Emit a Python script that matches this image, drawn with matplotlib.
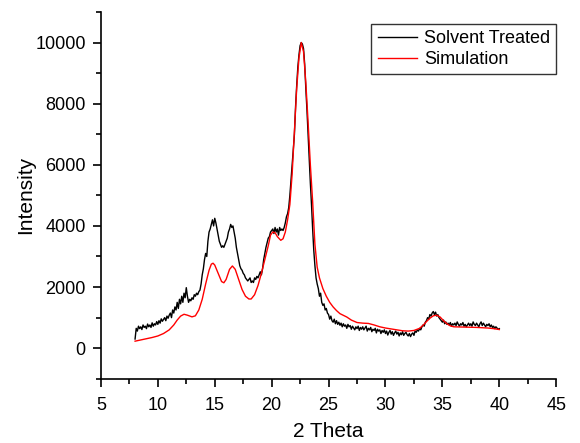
import numpy as np
import matplotlib
matplotlib.use("Agg")
import matplotlib.pyplot as plt
from matplotlib.ticker import MultipleLocator

# measured pattern, sampled every 0.1 deg from 8.0 to 40.0
meas_x = np.round(np.arange(8.0, 40.001, 0.1), 2)
meas_y = [
    300, 650, 560, 720, 640, 700, 610, 760, 680, 720,
    640, 790, 700, 760, 680, 830, 720, 800, 760, 870,
    780, 900, 820, 960, 880, 940, 1000, 900, 1050, 980,
    1080, 1150, 1000, 1250, 1150, 1350, 1250, 1500, 1300, 1600,
    1450, 1700, 1500, 1800, 1650, 1980, 1700, 1500, 1600, 1550,
    1650, 1600, 1750, 1700, 1800, 1750, 1850, 1900, 2100, 2400,
    2600, 2900, 3100, 3000, 3500, 3800, 3900, 4050, 4200, 4000,
    4250, 4100, 3900, 3700, 3500, 3400, 3300, 3350, 3300, 3400,
    3500, 3600, 3800, 3900, 4050, 3950, 4000, 3800, 3600, 3300,
    3100, 2900, 2700, 2600, 2550, 2450, 2400, 2300, 2250, 2200,
    2250, 2300, 2150, 2200, 2150, 2300, 2250, 2350, 2300, 2400,
    2500, 2400, 2600, 2900, 3100, 3300, 3450, 3600, 3650, 3800,
    3850, 3900, 3750, 3950, 3800, 3900, 3700, 3950, 3850, 3900,
    3850, 3950, 4100, 4300, 4400, 4600, 5000, 5500, 6000, 6500,
    7000, 7900, 8600, 9200, 9600, 9900, 10000, 9950, 9800, 9300,
    8500, 7800, 7000, 6200, 5400, 4700, 3900, 3200, 2700, 2300,
    2100, 1950, 1700, 1800, 1500, 1400, 1450, 1250, 1300, 1150,
    1100, 950, 1050, 900, 850, 950, 800, 900, 780, 850,
    750, 820, 700, 800, 720, 760, 650, 780, 700, 740,
    620, 720, 660, 600, 700, 640, 720, 580, 680, 620,
    700, 600, 660, 720, 560, 650, 600, 680, 540, 620,
    580, 650, 500, 620, 560, 600, 480, 580, 520, 600,
    480, 560, 430, 520, 580, 460, 540, 420, 500, 560,
    460, 520, 400, 500, 440, 540, 420, 480, 520, 440,
    400, 480, 380, 460, 500, 420, 560, 520, 600, 560,
    650, 600, 700, 760, 720, 850, 900, 1000, 950, 1100,
    1050, 1150, 1200, 1100, 1180, 1050, 1100, 1000, 950, 900,
    850, 920, 800, 860, 780, 820, 760, 840, 720, 800,
    760, 820, 740, 860, 780, 720, 800, 760, 840, 720,
    780, 700, 760, 820, 740, 800, 720, 860, 780, 740,
    820, 760, 700, 800, 860, 740, 820, 760, 700, 780,
    740, 800, 700, 760, 680, 720, 640, 700, 660, 620,
    640,
]

# simulated pattern
sim_x = [8.0, 8.5, 9.0, 9.5, 10.0, 10.5, 11.0, 11.4, 11.7, 12.0, 12.3, 12.6,
         13.0, 13.3, 13.6, 13.9, 14.2, 14.5, 14.7, 14.85, 15.0, 15.3, 15.6,
         15.8, 16.0, 16.3, 16.55, 16.8, 17.1, 17.4, 17.7, 18.0, 18.2, 18.5,
         18.8, 19.1, 19.4, 19.7, 19.9, 20.1, 20.3, 20.5, 20.8, 21.0, 21.2,
         21.4, 21.6, 21.8, 22.0, 22.2, 22.4, 22.6, 22.8, 23.0, 23.2, 23.4,
         23.6, 23.8, 24.0, 24.2, 24.5, 24.8, 25.1, 25.4, 25.7, 26.0, 26.6,
         27.0, 27.5, 28.0, 28.5, 29.0, 29.5, 30.0, 30.5, 31.0, 31.5, 32.0,
         32.5, 33.0, 33.3, 33.6, 33.9, 34.2, 34.5, 34.8, 35.1, 35.4, 35.7,
         36.0, 37.0, 38.0, 39.0, 39.5, 40.0]
sim_y = [230, 270, 310, 350, 400, 480, 600, 760, 920, 1050, 1110, 1080,
         1025, 1060, 1250, 1600, 2100, 2550, 2750, 2780, 2720, 2450, 2180,
         2140, 2250, 2580, 2690, 2580, 2250, 1920, 1700, 1610, 1610, 1750,
         2050, 2450, 2900, 3350, 3700, 3800, 3780, 3650, 3530, 3580, 3800,
         4200, 4700, 5700, 7100, 8500, 9500, 10000, 9700, 8700, 7400, 6000,
         4800, 3400, 2650, 2300, 1950, 1700, 1500, 1350, 1230, 1130, 1020,
         920, 840, 820, 810, 760, 700, 660, 630, 600, 570, 560,
         580, 650, 750, 870, 980, 1060, 1080, 1020, 900, 800, 730,
         700, 690, 680, 660, 640, 610]

plt.rcParams["font.family"] = ["Liberation Sans", "DejaVu Sans"]

fig = plt.figure(figsize=(5.8, 4.43), dpi=100)
ax = fig.add_axes([0.174, 0.145, 0.785, 0.828])

ax.plot(meas_x, meas_y, color="black", lw=1.0, label="Solvent Treated")
ax.plot(sim_x, sim_y, color="red", lw=1.0, label="Simulation")

ax.set_xlim(5, 45)
ax.set_ylim(-1000, 11000)
ax.xaxis.set_major_locator(MultipleLocator(5))
ax.xaxis.set_minor_locator(MultipleLocator(2.5))
ax.yaxis.set_major_locator(MultipleLocator(2000))
ax.yaxis.set_minor_locator(MultipleLocator(1000))
ax.set_yticks([0, 2000, 4000, 6000, 8000, 10000])

for s in ["top", "right"]:
    ax.spines[s].set_visible(False)
for s in ["left", "bottom"]:
    ax.spines[s].set_linewidth(1.2)

ax.tick_params(which="major", direction="out", length=6, width=1.2, labelsize=13)
ax.tick_params(axis="x", which="major", pad=7)
ax.tick_params(axis="y", which="major", pad=5)
ax.tick_params(which="minor", direction="out", length=3.5, width=1.2)

ax.set_xlabel("2 Theta", fontsize=15, labelpad=6)
ax.set_ylabel("Intensity", fontsize=15, labelpad=0)

leg = ax.legend(loc="upper right", bbox_to_anchor=(1.0, 0.967), fontsize=13,
                frameon=True, fancybox=False, edgecolor="black",
                handlelength=2.2, borderpad=0.35, labelspacing=0.2,
                handletextpad=0.35, borderaxespad=0.0)
leg.get_frame().set_linewidth(1.0)

fig.savefig("out.png", dpi=100)
